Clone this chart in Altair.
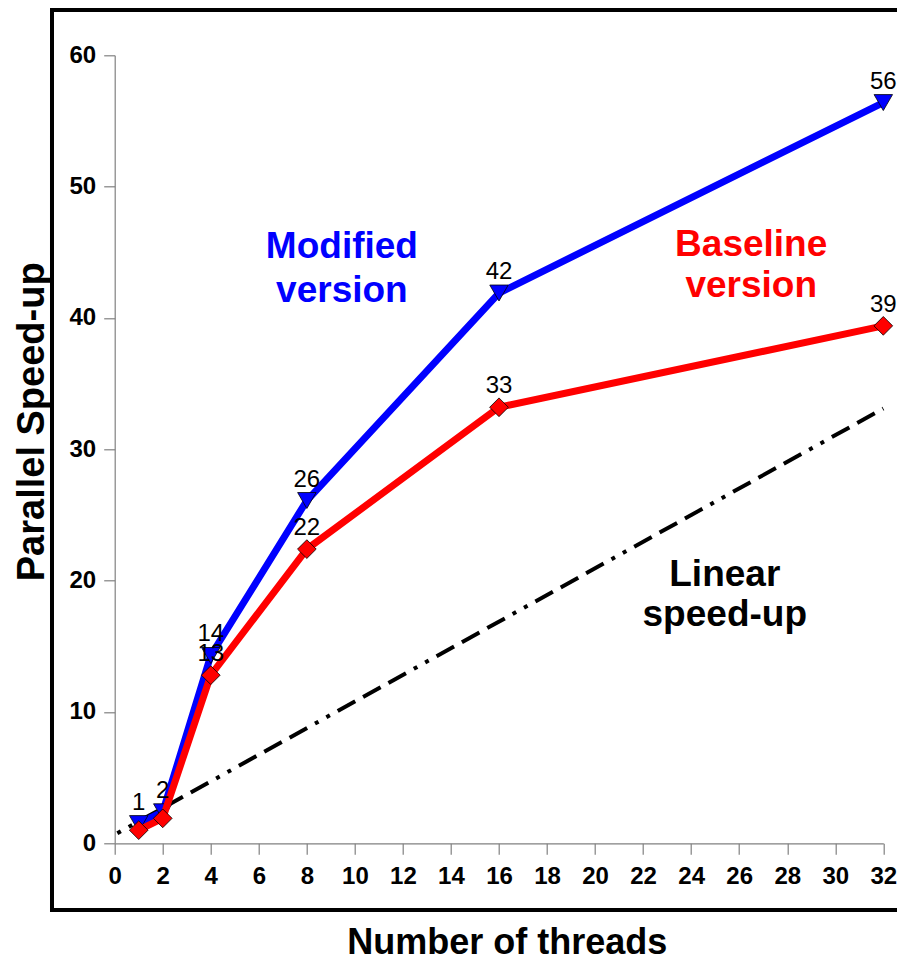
import altair as alt
import pandas as pd

# ---- data ----
threads = [1, 2, 4, 8, 16, 32]
modified = [1.5, 2.4, 14.3, 26.1, 41.9, 56.4]
baseline = [1.0, 1.9, 12.8, 22.4, 33.2, 39.4]
modified_labels = ["1", "2", "14", "26", "42", "56"]
baseline_labels = ["", "", "13", "22", "33", "39"]
linear_x = [0, 32]
linear_y = [0.66, 33.1]
x_ticks = list(range(0, 33, 2))
y_ticks = [0, 10, 20, 30, 40, 50, 60]

FONT = "Liberation Sans"
W, H = 768.6, 788

df_mod = pd.DataFrame({"t": threads, "v": modified, "lab": modified_labels})
df_base = pd.DataFrame({"t": threads, "v": baseline, "lab": baseline_labels})
df_lin = pd.DataFrame({"t": linear_x, "v": linear_y})
one = pd.DataFrame({"a": [0]})

x_scale = alt.Scale(domain=[0, 32], nice=False, zero=False)
y_scale = alt.Scale(domain=[0, 60], nice=False)

x_axis = alt.Axis(
    values=x_ticks, grid=False, title="Number of threads",
    domainColor="#808080", domainWidth=1.2, tickColor="#808080", tickWidth=1.2, tickSize=11,
    labelFont=FONT, labelFontSize=24, labelFontWeight="bold", labelColor="black",
    labelPadding=10, labelFlush=False, labelOverlap=False,
    titleFont=FONT, titleFontSize=36, titleFontWeight="bold", titleColor="black",
    titleX=392, titleY=110, titleAlign="center", titleBaseline="alphabetic",
)
y_axis = alt.Axis(
    values=y_ticks, grid=False, title="Parallel Speed-up",
    domainColor="#808080", domainWidth=1.2, tickColor="#808080", tickWidth=1.2, tickSize=11,
    labelFont=FONT, labelFontSize=24, labelFontWeight="bold", labelColor="black",
    labelPadding=8, labelFlush=False, labelOverlap=False,
    titleFont=FONT, titleFontSize=38, titleFontWeight="bold", titleColor="black",
    titleAngle=270, titleX=-71, titleY=366, titleAlign="center", titleBaseline="alphabetic",
)

X = alt.X("t:Q", scale=x_scale, axis=x_axis)
Y = alt.Y("v:Q", scale=y_scale, axis=y_axis)

linear = alt.Chart(df_lin).mark_line(
    color="black", strokeWidth=4, strokeCap="butt",
    strokeDash=[4, 9, 4, 9, 20, 9, 20, 9, 20, 9], strokeDashOffset=-3,
).encode(x=X, y=Y)

mod_line = alt.Chart(df_mod).mark_line(color="#0000FF", strokeWidth=7).encode(x=X, y=Y)
mod_pts = alt.Chart(df_mod).mark_point(
    shape="triangle-down", filled=True, fill="#0000FF", stroke="black",
    strokeWidth=0.8, size=340, opacity=1,
).encode(x=X, y=Y)
base_line = alt.Chart(df_base).mark_line(color="#FF0000", strokeWidth=7).encode(x=X, y=Y)
base_pts = alt.Chart(df_base).mark_point(
    shape="diamond", filled=True, fill="#FF0000", stroke="black",
    strokeWidth=0.8, size=350, opacity=1,
).encode(x=X, y=Y)

mod_lab = alt.Chart(df_mod).mark_text(
    font=FONT, fontSize=24, color="black", baseline="middle", align="center", dy=-21,
).encode(x=X, y=Y, text="lab:N")
base_lab = alt.Chart(df_base).mark_text(
    font=FONT, fontSize=24, color="black", baseline="middle", align="center", dy=-21,
).encode(x=X, y=Y, text="lab:N")

ann_mod = alt.Chart(one).mark_text(
    text=["Modified", "version"], font=FONT, fontSize=37, fontWeight="bold",
    color="#0000FF", align="center", baseline="alphabetic", lineHeight=44,
).encode(x=alt.datum(9.46), y=alt.datum(44.6))
ann_base = alt.Chart(one).mark_text(
    text=["Baseline", "version"], font=FONT, fontSize=37, fontWeight="bold",
    color="#FF0000", align="center", baseline="alphabetic", lineHeight=41,
).encode(x=alt.datum(26.5), y=alt.datum(44.7))
ann_lin = alt.Chart(one).mark_text(
    text=["Linear", "speed-up"], font=FONT, fontSize=37, fontWeight="bold",
    color="black", align="center", baseline="alphabetic", lineHeight=40,
).encode(x=alt.datum(25.4), y=alt.datum(19.6))

frame = alt.Chart(one).mark_rect(
    fillOpacity=0, stroke="black", strokeWidth=4,
).encode(
    x=alt.value(-62.7), x2=alt.value(800), y=alt.value(-45.3), y2=alt.value(854.7)
)

chart = alt.layer(
    linear, mod_line, mod_pts, base_line, base_pts, mod_lab, base_lab,
    ann_mod, ann_base, ann_lin, frame,
).properties(
    width=W, height=H,
    autosize=alt.AutoSizeParams(type="none"),
    padding={"left": 106.7, "top": 47.3, "right": 13.7, "bottom": 118.7},
    background="white",
).configure_view(stroke="transparent")

chart.save("out.html", embed_options={"renderer": "svg", "actions": False})
